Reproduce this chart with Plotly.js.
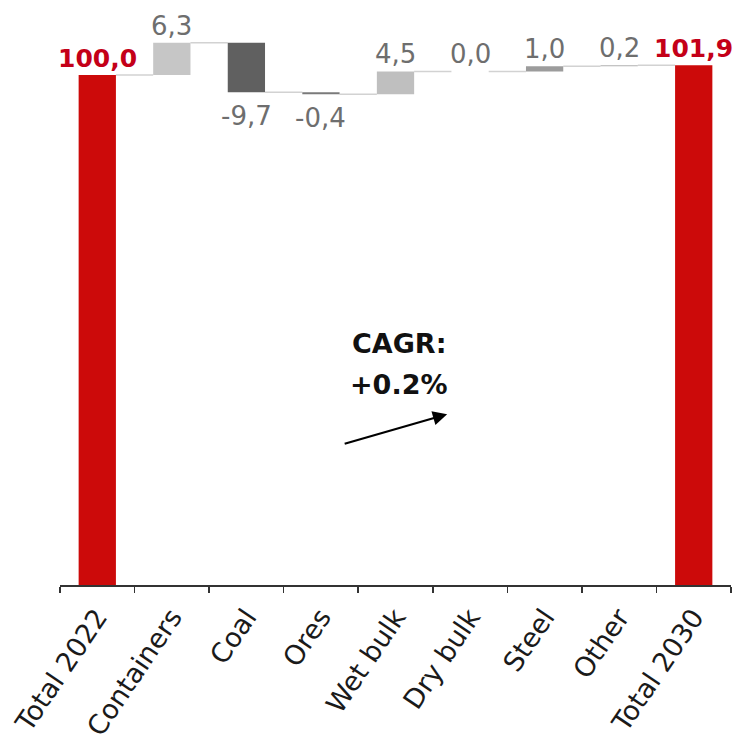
<!DOCTYPE html>
<html>
<head>
<meta charset="utf-8">
<script src="https://cdn.plot.ly/plotly-3.0.1.min.js"></script>
<style>
  html, body { margin: 0; padding: 0; background: #ffffff; }
  #chart { width: 743px; height: 750px; }
</style>
</head>
<body>
<div id="chart"></div>
<script>
// ---- data ----
const categories = ["Total 2022", "Containers", "Coal", "Ores", "Wet bulk", "Dry bulk", "Steel", "Other", "Total 2030"];
const values = [100.0, 6.3, -9.7, -0.4, 4.5, 0.0, 1.0, 0.2, 101.9];
const measures = ["total", "relative", "relative", "relative", "relative", "relative", "relative", "relative", "total"];
const valueLabels = ["100,0", "6,3", "-9,7", "-0,4", "4,5", "0,0", "1,0", "0,2", "101,9"];
const cagrLines = ["CAGR:", "+0.2%"];

// ---- styles ----
const RED = "#cc0a0a";
const RED_TEXT = "#c40018";
const barColors = [RED, "#c6c6c6", "#606060", "#7a7a7a", "#bfbfbf", "#b0b0b0", "#9c9c9c", "#b0b0b0", RED];
const FONT = "DejaVu Sans, Liberation Sans, Arial, sans-serif";

// compute bar bases from the running total
const bases = [];
const tops = [];
let running = 0;
values.forEach((v, i) => {
  if (measures[i] === "total") {
    bases.push(0);
    running = v;
    tops.push(v);
  } else {
    bases.push(running);
    running += v;
    tops.push(running);
  }
});

const trace = {
  type: "bar",
  x: categories,
  y: values,
  base: bases,
  width: 0.5,
  marker: { color: barColors, line: { width: 0 } },
  hoverinfo: "skip",
  showlegend: false
};

// connector lines between neighbouring bars
const shapes = [];
for (let i = 0; i < categories.length - 1; i++) {
  const level = tops[i];
  shapes.push({
    type: "line", xref: "x", yref: "y",
    x0: i + 0.25, x1: i + 1 - 0.25, y0: level, y1: level,
    line: { color: "#d2d2d2", width: 1.5 },
    layer: "below"
  });
}

// value labels
const annotations = categories.map((c, i) => {
  const isTotal = measures[i] === "total";
  const neg = values[i] < 0;
  return {
    x: c, y: tops[i], xref: "x", yref: "y",
    text: valueLabels[i],
    showarrow: false,
    yanchor: neg ? "top" : "bottom",
    xanchor: "center",
    yshift: neg ? -7 : 0,
    font: {
      family: FONT,
      size: isTotal ? 25 : 26,
      color: isTotal ? RED_TEXT : "#6e6e6e",
      weight: isTotal ? "bold" : "normal"
    }
  };
});

// CAGR text and arrow
annotations.push({
  xref: "paper", yref: "paper", x: 0.505, y: 0.412,
  text: "<b>" + cagrLines[0] + "</b>", showarrow: false,
  xanchor: "center", yanchor: "middle",
  font: { family: FONT, size: 27, color: "#111111" }
});
annotations.push({
  xref: "paper", yref: "paper", x: 0.505, y: 0.343,
  text: "<b>" + cagrLines[1] + "</b>", showarrow: false,
  xanchor: "center", yanchor: "middle",
  font: { family: FONT, size: 27, color: "#111111" }
});
annotations.push({
  xref: "paper", yref: "paper", x: 0.577, y: 0.292,
  ax: -104, ay: 30, axref: "pixel", ayref: "pixel",
  text: "", showarrow: true,
  arrowhead: 2, arrowsize: 1.3, arrowwidth: 2.2, arrowcolor: "#000000"
});

const layout = {
  width: 743, height: 750,
  margin: { l: 60, r: 12, t: 0, b: 165, autoexpand: false },
  paper_bgcolor: "#ffffff",
  plot_bgcolor: "#ffffff",
  xaxis: {
    type: "category",
    range: [-0.5, categories.length - 0.5],
    automargin: false,
    showline: true, linecolor: "#333333", linewidth: 1.5,
    ticks: "outside", ticklen: 6, tickcolor: "#333333", tickwidth: 1.5,
    tickson: "boundaries",
    tickangle: -56,
    tickfont: { family: FONT, size: 27, color: "#1a1a1a" },
    showgrid: false, zeroline: false,
    ticklabelstandoff: 4
  },
  yaxis: {
    range: [0, 114.7],
    automargin: false,
    visible: false, showgrid: false, zeroline: false
  },
  shapes: shapes,
  annotations: annotations
};

Plotly.newPlot("chart", [trace], layout, { displayModeBar: false, staticPlot: true });
</script>
</body>
</html>
